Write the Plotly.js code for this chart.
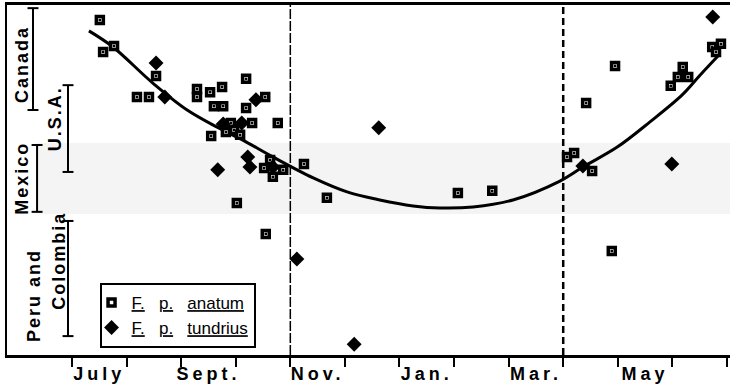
<!DOCTYPE html>
<html>
<head>
<meta charset="utf-8">
<script src="https://cdn.plot.ly/plotly-3.0.1.min.js"></script>
<style>
  html, body { margin: 0; padding: 0; background: #fff; }
  #chart { width: 730px; height: 387px; }
  .xtick text { letter-spacing: 4px; }
  .annotation-text { letter-spacing: 2px; }
</style>
</head>
<body>
<div id="chart"></div>
<script>
// x = months since July 1 (0 = July 1, 12 = next July 1); y = relative latitude position (0-100)
const anatumMonth = [0.51, 0.77, 0.57, 1.54, 1.19, 1.41, 2.29, 2.29, 2.53, 2.75, 3.19, 2.60, 2.77, 3.19, 3.54,
  3.30, 3.77, 2.91, 2.82, 2.97, 3.08, 2.55, 3.63, 3.52, 3.68, 3.87, 4.25, 3.02, 3.55, 4.67,
  7.07, 7.70, 9.07, 9.20, 9.53, 9.42, 9.95, 9.89, 10.97, 11.10, 11.19, 11.29, 11.73, 11.89, 11.80];
const anatumY = [95.7, 88.3, 86.6, 79.7, 73.7, 73.7, 76.0, 73.7, 75.1, 76.6, 78.9, 71.1, 71.1, 70.6, 73.7,
  66.3, 66.3, 66.3, 63.7, 64.3, 62.9, 62.6, 55.7, 53.4, 50.9, 52.9, 54.6, 43.4, 34.6, 44.9,
  46.3, 46.9, 56.6, 57.7, 52.6, 72.0, 82.6, 29.7, 76.9, 79.4, 82.3, 79.4, 88.0, 88.9, 86.6];

const tundriusMonth = [1.54, 1.70, 3.37, 3.11, 2.77, 3.22, 3.26, 2.67, 3.68, 5.62, 4.12, 5.17, 9.36, 10.99, 11.74];
const tundriusY = [83.4, 73.7, 72.9, 66.3, 66.0, 56.6, 53.7, 52.9, 53.7, 64.9, 27.4, 3.1, 54.0, 54.6, 96.6];

// fitted seasonal curve
const fitMonth = [0.31, 0.75, 1.48, 2.11, 2.66, 3.13, 3.68, 4.42, 5.04, 5.64, 6.25, 6.74, 7.35, 8.08, 8.94, 9.36, 9.99, 10.59, 11.18, 11.51, 11.87];
const fitY = [92.6, 88.0, 77.7, 70.0, 65.1, 61.4, 56.6, 50.6, 46.6, 44.3, 42.6, 42.0, 42.3, 44.3, 49.7, 53.7, 59.4, 66.6, 74.3, 80.0, 86.0];

const monthTicks = [0, 1, 2, 3, 4, 5, 6, 7, 8, 9, 10, 11, 12];
const monthLabelPos = [0.5, 2.5, 4.5, 6.5, 8.5, 10.5];
const monthLabels = ['July', 'Sept.', 'Nov.', 'Jan.', 'Mar.', 'May'];

const seasonBreaks = [4, 9];

const regionNames = ['Canada', 'U.S.A.', 'Mexico', 'Peru and', 'Colombia'];
const regionTop = [99.1, 77.1, 60.0, 38.3];
const regionBottom = [70.0, 52.3, 40.9, 5.4];
const mexicoBand = [40.3, 60.6];

const FONT = 'Liberation Sans, Arial, Helvetica, sans-serif';
const SP = '&nbsp;&nbsp;&nbsp;';

const traces = [
  {
    x: fitMonth, y: fitY, mode: 'lines', type: 'scatter',
    line: { color: '#000', width: 3, shape: 'spline', smoothing: 1 },
    showlegend: false, hoverinfo: 'skip'
  },
  {
    x: anatumMonth, y: anatumY, mode: 'markers', type: 'scatter',
    name: '<u>F.</u>' + SP + '<u>p.</u>' + SP + '<u>anatum</u>',
    marker: { symbol: 'square', size: 7, color: '#fff', line: { color: '#000', width: 3.5 } }
  },
  {
    x: anatumMonth, y: anatumY, mode: 'markers', type: 'scatter',
    showlegend: false, hoverinfo: 'skip',
    marker: { symbol: 'square', size: 2.5, color: '#000', line: { width: 0 } }
  },
  {
    x: tundriusMonth, y: tundriusY, mode: 'markers', type: 'scatter',
    name: '<u>F.</u>' + SP + '<u>p.</u>' + SP + '<u>tundrius</u>',
    marker: { symbol: 'diamond', size: 11.5, color: '#000', line: { color: '#000', width: 0 } }
  }
];

const shapes = [];
// stippled Mexico band
shapes.push({ type: 'rect', xref: 'x', yref: 'y', x0: -0.66, x1: 12.1, y0: mexicoBand[0], y1: mexicoBand[1],
  fillcolor: 'rgba(0,0,0,0.045)', line: { width: 0 }, layer: 'below' });
// season break lines
shapes.push({ type: 'line', xref: 'x', yref: 'paper', x0: seasonBreaks[0], x1: seasonBreaks[0], y0: 0, y1: 1,
  line: { color: '#000', width: 1.5, dash: '10px,2px' } });
shapes.push({ type: 'line', xref: 'x', yref: 'paper', x0: seasonBreaks[1], x1: seasonBreaks[1], y0: 0, y1: 1,
  line: { color: '#000', width: 2.5, dash: '7px,4px' } });
// region range bars
const barX = [-0.715, -0.073, -0.64, -0.073];
const cap = 0.1;
for (let i = 0; i < regionTop.length; i++) {
  const bx = barX[i];
  shapes.push({ type: 'line', xref: 'x', yref: 'y', x0: bx, x1: bx, y0: regionTop[i], y1: regionBottom[i], line: { color: '#000', width: 2 } });
  shapes.push({ type: 'line', xref: 'x', yref: 'y', x0: bx - cap, x1: bx + cap, y0: regionTop[i], y1: regionTop[i], line: { color: '#000', width: 2 } });
  shapes.push({ type: 'line', xref: 'x', yref: 'y', x0: bx - cap, x1: bx + cap, y0: regionBottom[i], y1: regionBottom[i], line: { color: '#000', width: 2 } });
}

const labelPos = [[-0.92, 83.1], [-0.31, 67.4], [-0.92, 50.6], [-0.70, 17.1], [-0.24, 26.9]];
const annotations = regionNames.map((t, i) => ({
  text: t, xref: 'x', yref: 'y', x: labelPos[i][0], y: labelPos[i][1], textangle: -90,
  showarrow: false, xanchor: 'center', yanchor: 'middle',
  font: { family: FONT, size: 18, color: '#000', weight: 'bold' }
}));

const layout = {
  width: 730, height: 387,
  margin: { l: 7, r: 0, t: 5, b: 32 },
  paper_bgcolor: '#fff', plot_bgcolor: '#fff',
  showlegend: true,
  legend: {
    x: 0.128, y: 0.206, xanchor: 'left', yanchor: 'top',
    bgcolor: '#fff', bordercolor: '#000', borderwidth: 2,
    font: { family: FONT, size: 17, color: '#000' },
    itemwidth: 30, tracegroupgap: 0, indentation: -10
  },
  xaxis: {
    range: [-1.191, 12.056], showgrid: false, zeroline: false,
    showline: true, linecolor: '#000', linewidth: 3, mirror: true,
    tickmode: 'array', tickvals: monthLabelPos, ticktext: monthLabels, ticks: '',
    tickfont: { family: FONT, size: 18, color: '#000', weight: 'bold' },
    minor: { tickmode: 'array', tickvals: monthTicks, ticks: 'outside', ticklen: 9, tickwidth: 2, tickcolor: '#000', showgrid: false },
    fixedrange: true
  },
  yaxis: {
    range: [0, 100], showgrid: false, zeroline: false,
    showline: true, linecolor: '#000', linewidth: 2, mirror: false,
    showticklabels: false, ticks: '', fixedrange: true
  },
  shapes: shapes,
  annotations: annotations
};

Plotly.newPlot('chart', traces, layout, { displayModeBar: false, staticPlot: true });
</script>
</body>
</html>
